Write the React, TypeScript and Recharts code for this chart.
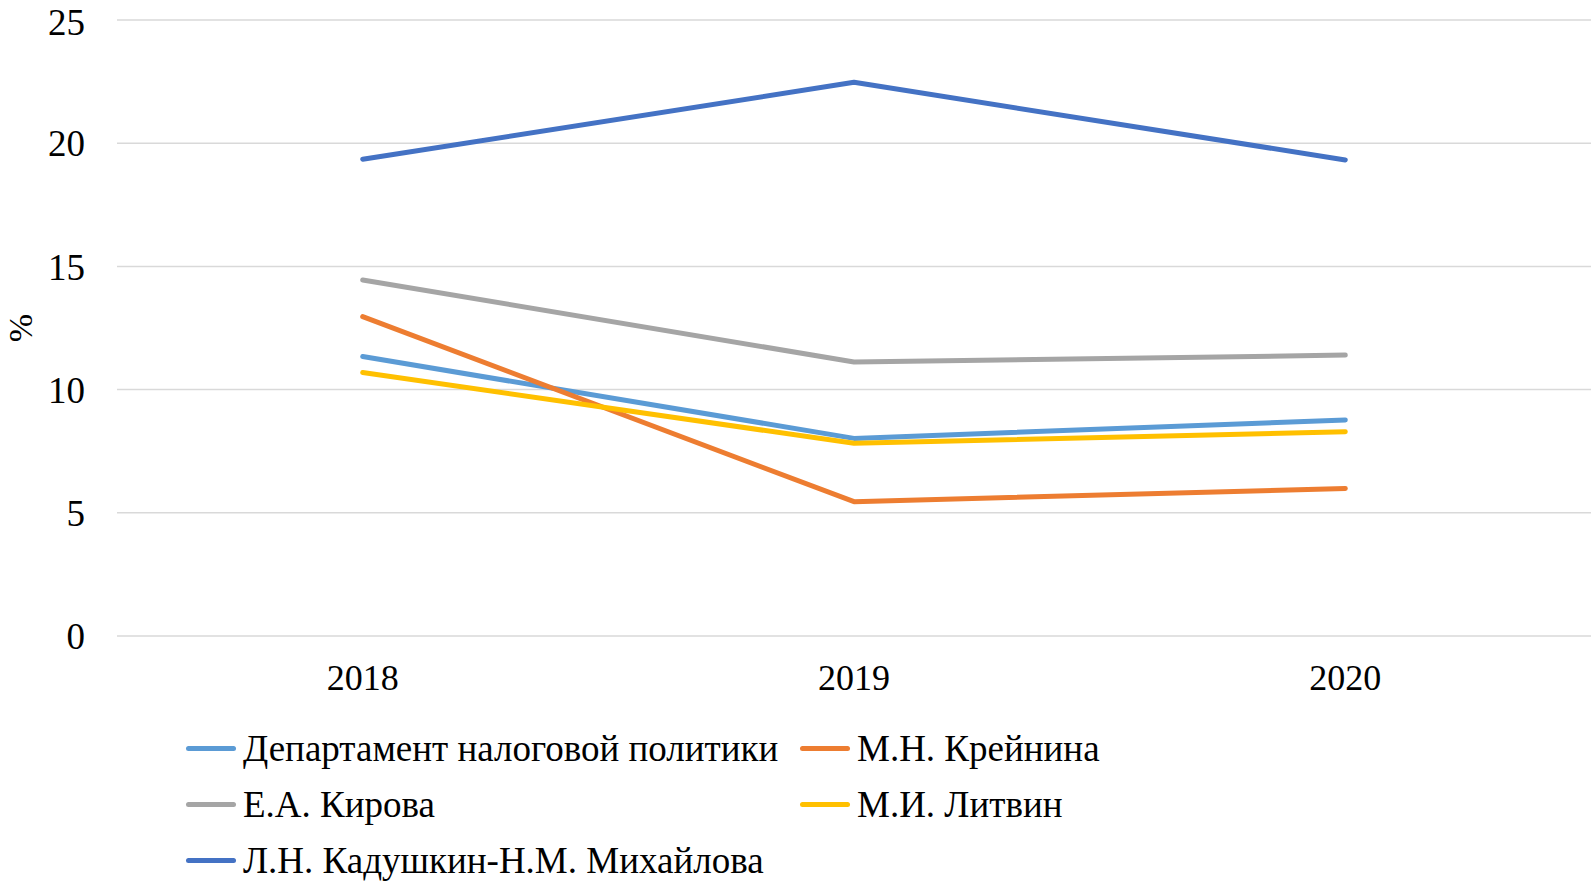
import React from 'react';
import { LineChart, Line, XAxis, YAxis, CartesianGrid, Legend } from 'recharts';

const categories = ['2018', '2019', '2020'];
const deptValues = [11.34, 8.02, 8.77];
const kreyninaValues = [12.96, 5.45, 5.99];
const kirovaValues = [14.45, 11.12, 11.4];
const litvinValues = [10.69, 7.82, 8.29];
const kadushkinValues = [19.35, 22.47, 19.32];
const yTicks = [0, 5, 10, 15, 20, 25];

const seriesNames = [
  'Департамент налоговой политики',
  'М.Н. Крейнина',
  'Е.А. Кирова',
  'М.И. Литвин',
  'Л.Н. Кадушкин-Н.М. Михайлова',
];
const seriesColors = ['#5B9BD5', '#ED7D31', '#A5A5A5', '#FFC000', '#4472C4'];
const seriesValues = [deptValues, kreyninaValues, kirovaValues, litvinValues, kadushkinValues];

const data = categories.map((year, i) => {
  const row: Record<string, string | number> = { year };
  seriesNames.forEach((name, s) => {
    row[name] = seriesValues[s][i];
  });
  return row;
});

const FONT = '"Liberation Serif", "Times New Roman", serif';

const renderLegend = () => {
  return (
    <div
      style={{
        display: 'grid',
        gridTemplateColumns: '614px 600px',
        gridAutoRows: '56px',
        paddingLeft: 186,
        fontFamily: FONT,
        fontSize: 37,
        color: '#000',
      }}
    >
      {seriesNames.map((name, s) => (
        <div key={name} style={{ display: 'flex', alignItems: 'center', whiteSpace: 'nowrap' }}>
          <span
            style={{
              display: 'inline-block',
              width: 50,
              height: 5,
              borderRadius: 3,
              background: seriesColors[s],
              marginRight: 7,
            }}
          />
          <span>{name}</span>
        </div>
      ))}
    </div>
  );
};

const renderYLabel = (props: any) => {
  const vb = props.viewBox || { x: 0, y: 0, width: 0, height: 0 };
  const x = vb.x + 20;
  const y = vb.y + vb.height / 2;
  return (
    <text
      x={x}
      y={y}
      transform={`rotate(-90, ${x}, ${y})`}
      textAnchor="middle"
      dominantBaseline="central"
      fontFamily={FONT}
      fontSize={34}
      fill="#000"
    >
      %
    </text>
  );
};

export default function App() {
  return (
    <div style={{ position: 'absolute', left: 0, top: 0, background: '#fff' }}>
      <LineChart
        width={1591}
        height={882}
        data={data}
        margin={{ top: 20, right: 0, left: 0, bottom: 166 }}
      >
        <CartesianGrid vertical={false} stroke="#D9D9D9" strokeWidth={1.5} />
        <XAxis
          dataKey="year"
          axisLine={false}
          tickLine={false}
          tickSize={0}
          tickMargin={28}
          height={80}
          padding={{ left: 245.7, right: 245.7 }}
          tick={{ fontFamily: FONT, fontSize: 36, fill: '#000' }}
        />
        <YAxis
          domain={[0, 25]}
          ticks={yTicks}
          width={117}
          axisLine={false}
          tickLine={false}
          tickSize={0}
          tickMargin={32}
          tick={{ fontFamily: FONT, fontSize: 37, fill: '#000' }}
          label={renderYLabel}
        />
        <Legend
          layout="vertical"
          align="center"
          verticalAlign="middle"
          content={renderLegend}
          wrapperStyle={{ top: 720, left: 0, width: 1591, height: 170 }}
        />
        {seriesNames.map((name, s) => (
          <Line
            key={name}
            type="linear"
            dataKey={name}
            stroke={seriesColors[s]}
            strokeWidth={5}
            strokeLinecap="round"
            strokeLinejoin="round"
            dot={false}
            activeDot={false}
            isAnimationActive={false}
          />
        ))}
      </LineChart>
    </div>
  );
}
